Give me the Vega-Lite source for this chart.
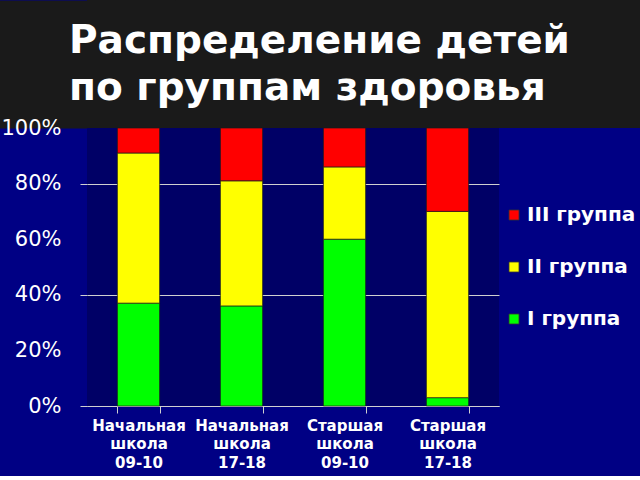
{
  "$schema": "https://vega.github.io/schema/vega-lite/v6.json",
  "background": "#000084",
  "padding": {"left": 0, "top": 0, "right": 0, "bottom": 6},
  "spacing": -11,
  "config": {"view": {"stroke": null}},
  "vconcat": [
    {
      "width": 553,
      "height": 128,
      "view": {"fill": "#1a1a1a", "stroke": null},
      "data": {"values": [{"t": ""}]},
      "mark": {"type": "text", "opacity": 0},
      "encoding": {
        "text": {"field": "t"},
        "y": {
          "datum": 0.5,
          "type": "quantitative",
          "scale": {"domain": [0, 1]},
          "axis": {
            "title": null,
            "labels": false,
            "ticks": false,
            "grid": false,
            "domain": true,
            "domainColor": "#1a1a1a",
            "domainWidth": 176,
            "domainCap": "butt"
          }
        }
      },
      "title": {
        "text": ["Распределение детей", "по группам здоровья"],
        "orient": "top",
        "anchor": "start",
        "frame": "group",
        "offset": -139,
        "baseline": "alphabetic",
        "dx": -18,
        "font": "DejaVu Sans",
        "fontSize": 39,
        "fontWeight": "bold",
        "color": "#ffffff",
        "lineHeight": 47
      }
    },
    {
      "width": 412,
      "height": 278,
      "view": {"fill": "#000066", "stroke": null},
      "data": {
        "values": [
          {"level": "Начальная школа 09-10", "group": "I группа", "pct": 37},
          {"level": "Начальная школа 09-10", "group": "II группа", "pct": 54},
          {"level": "Начальная школа 09-10", "group": "III группа", "pct": 9},
          {"level": "Начальная школа 17-18", "group": "I группа", "pct": 36},
          {"level": "Начальная школа 17-18", "group": "II группа", "pct": 45},
          {"level": "Начальная школа 17-18", "group": "III группа", "pct": 19},
          {"level": "Старшая школа 09-10", "group": "I группа", "pct": 60},
          {"level": "Старшая школа 09-10", "group": "II группа", "pct": 26},
          {"level": "Старшая школа 09-10", "group": "III группа", "pct": 14},
          {"level": "Старшая школа 17-18", "group": "I группа", "pct": 3},
          {"level": "Старшая школа 17-18", "group": "II группа", "pct": 67},
          {"level": "Старшая школа 17-18", "group": "III группа", "pct": 30}
        ]
      },
      "mark": {"type": "bar", "stroke": "#1a1a1a", "strokeWidth": 0.7},
      "encoding": {
        "x": {
          "field": "level",
          "type": "nominal",
          "sort": null,
          "title": null,
          "scale": {"paddingInner": 0.59, "paddingOuter": 0.295},
          "axis": {
            "labelAngle": 0,
            "labelExpr": "split(datum.label, ' ')",
            "labelColor": "#ffffff",
            "labelFont": "DejaVu Sans",
            "labelFontWeight": "bold",
            "labelFontSize": 15,
            "labelLineHeight": 18.5,
            "labelPadding": 5,
            "tickBand": "extent",
            "tickSize": 7,
            "tickColor": "#d0d0d0",
            "domainColor": "#d0d0d0"
          }
        },
        "y": {
          "field": "pct",
          "type": "quantitative",
          "stack": "normalize",
          "title": null,
          "scale": {"domain": [0, 1]},
          "axis": {
            "values": [0, 0.2, 0.4, 0.6, 0.8, 1],
            "format": ".0%",
            "labelColor": "#ffffff",
            "labelFont": "DejaVu Sans",
            "labelFontSize": 21,
            "labelPadding": 19,
            "domain": false,
            "tickSize": 7,
            "tickColor": "#d0d0d0",
            "tickOpacity": {"condition": {"test": "abs(datum.value - round(datum.value / 0.4) * 0.4) < 0.001", "value": 1}, "value": 0},
            "gridColor": "#d0d0d0",
            "gridOpacity": {"condition": {"test": "abs(datum.value - round(datum.value / 0.4) * 0.4) < 0.001", "value": 1}, "value": 0}
          }
        },
        "order": {"field": "group", "sort": "ascending"},
        "color": {
          "field": "group",
          "type": "nominal",
          "scale": {
            "domain": ["I группа", "II группа", "III группа"],
            "range": ["#00ff00", "#ffff00", "#ff0000"]
          },
          "legend": {
            "title": null,
            "orient": "none",
            "legendX": 417,
            "legendY": 205,
            "padding": 0,
            "values": ["III группа", "II группа", "I группа"],
            "symbolType": "square",
            "symbolSize": 100,
            "symbolStrokeColor": "#333333",
            "symbolStrokeWidth": 0.8,
            "labelColor": "#ffffff",
            "labelFont": "DejaVu Sans",
            "labelFontWeight": "bold",
            "labelFontSize": 20,
            "labelOffset": 3,
            "rowPadding": 32
          }
        }
      }
    }
  ]
}
